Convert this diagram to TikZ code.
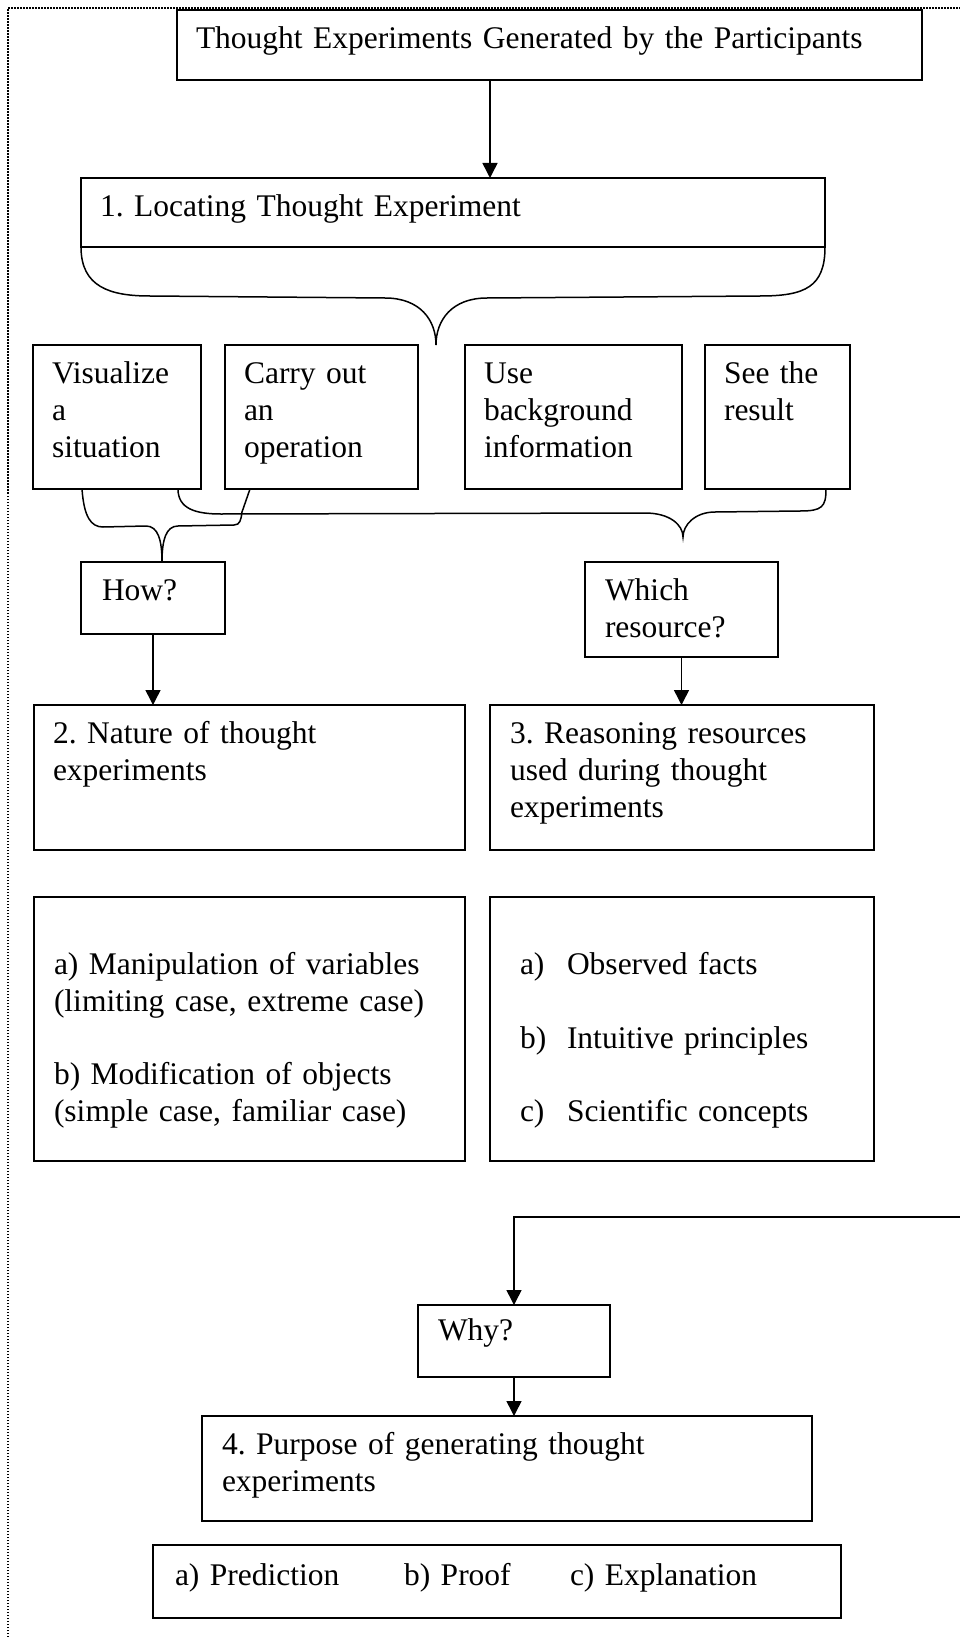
\documentclass[tikz,border=0pt]{standalone}
\usepackage{fontspec}
\setmainfont{Liberation Serif}
\usetikzlibrary{arrows.meta}
\newcommand{\tefont}{\fontsize{31.5}{36.8}\selectfont}
\frenchspacing

\begin{document}
\begin{tikzpicture}[x=1pt,y=-1pt,
  frame/.style={draw, line width=1.8pt, inner sep=0pt, outer sep=0pt, anchor=north west},
  txt/.style={anchor=north west, inner sep=0pt, outer sep=0pt, align=left, font=\tefont, text width=#1},
  txt/.default=400pt,
  link/.style={line width=1.5pt, -{Triangle[length=15pt,width=15pt]}},
  brace/.style={line width=1.5pt},
  border/.style={line width=1.5pt, dash pattern=on 1.5pt off 1.5pt}
]
\useasboundingbox (0,0) rectangle (960,1637);

% dotted page frame
\draw[border] (8,1640) -- (8,8) -- (965,8);

% boxes
\node[frame, minimum width=745pt, minimum height=70pt] (T) at (177,10) {};
\node[frame, minimum width=744pt, minimum height=69pt] (B1) at (81,178) {};
\node[frame, minimum width=168pt, minimum height=144pt] (V) at (33,345) {};
\node[frame, minimum width=193pt, minimum height=144pt] (C) at (225,345) {};
\node[frame, minimum width=217pt, minimum height=144pt] (U) at (465,345) {};
\node[frame, minimum width=145pt, minimum height=144pt] (S) at (705,345) {};
\node[frame, minimum width=144pt, minimum height=72pt] (How) at (81,562) {};
\node[frame, minimum width=193pt, minimum height=95pt] (Which) at (585,562) {};
\node[frame, minimum width=431pt, minimum height=145pt] (B2) at (34,705) {};
\node[frame, minimum width=384pt, minimum height=145pt] (B3) at (490,705) {};
\node[frame, minimum width=431pt, minimum height=264pt] (B2a) at (34,897) {};
\node[frame, minimum width=384pt, minimum height=264pt] (B3a) at (490,897) {};
\node[frame, minimum width=192pt, minimum height=72pt] (Why) at (418,1305) {};
\node[frame, minimum width=610pt, minimum height=105pt] (B4) at (202,1416) {};
\node[frame, minimum width=688pt, minimum height=73pt] (B4a) at (153,1545) {};

% texts
\node[txt=720pt] (Tt) at ([xshift=19pt,yshift=-13pt]T.north west) {\strut Thought Experiments Generated by the Participants};
\node[txt=700pt] (B1t) at ([xshift=19pt,yshift=-13pt]B1.north west) {\strut 1. Locating Thought Experiment};
\node[txt=150pt] (Vt) at ([xshift=19pt,yshift=-13pt]V.north west) {\strut Visualize\\ a\\ situation};
\node[txt=170pt] (Ct) at ([xshift=19pt,yshift=-13pt]C.north west) {\strut Carry out\\ an\\ operation};
\node[txt=190pt] (Ut) at ([xshift=19pt,yshift=-13pt]U.north west) {\strut Use\\ background\\ information};
\node[txt=120pt] (St) at ([xshift=19pt,yshift=-13pt]S.north west) {\strut See the\\ result};
\node[txt=120pt] (Howt) at ([xshift=21pt,yshift=-13pt]How.north west) {\strut How?};
\node[txt=170pt] (Whicht) at ([xshift=20pt,yshift=-13pt]Which.north west) {\strut Which\\ resource?};
\node[txt=410pt] (B2t) at ([xshift=19pt,yshift=-13pt]B2.north west) {\strut 2. Nature of thought\\ experiments};
\node[txt=360pt] (B3t) at ([xshift=20pt,yshift=-13pt]B3.north west) {\strut 3. Reasoning resources\\ used during thought\\ experiments};
\node[txt=410pt] (B2at) at ([xshift=20pt,yshift=-15pt]B2a.north west) {\strut\\ a) Manipulation of variables\\ (limiting case, extreme case)\\ \mbox{}\\ b) Modification of objects\\ (simple case, familiar case)};
\node[txt=350pt] (B3at) at ([xshift=30pt,yshift=-15pt]B3a.north west) {\strut\\ \makebox[47pt][l]{a)}Observed facts\\ \mbox{}\\ \makebox[47pt][l]{b)}Intuitive principles\\ \mbox{}\\ \makebox[47pt][l]{c)}Scientific concepts};
\node[txt=170pt] (Whyt) at ([xshift=20pt,yshift=-10pt]Why.north west) {\strut Why?};
\node[txt=590pt] (B4t) at ([xshift=20pt,yshift=-13pt]B4.north west) {\strut 4. Purpose of generating thought\\ experiments};
\node[txt=670pt] (B4at) at ([xshift=22pt,yshift=-15pt]B4a.north west) {\strut\makebox[229pt][l]{a) Prediction}\makebox[166pt][l]{b) Proof}c) Explanation};

% connectors
\coordinate (a1) at (490,0);
\draw[link] (T.south -| a1) -- (B1.north -| a1);
\draw[link] (How.south) -- (How.south |- B2.north);
\draw[link] (Which.south) -- (Which.south |- B3.north);
\coordinate (edge) at (962,1217);
\draw[link] (edge) -| (Why.north);
\draw[link] (Why.south) -- (Why.south |- B4.north);

% brace below box 1
\coordinate (t1) at (436,345);
\draw[brace] (B1.south west) .. controls +(0,40) and +(-40,0) .. (150,296)
  -- (385,298) .. controls +(35,0) and +(0,-25) .. (t1)
  .. controls +(0,-25) and +(-35,0) .. (487,298)
  -- (760,296) .. controls +(45,0) and +(0,40) .. (B1.south east);

% brace joining the first two boxes into How?
\draw[brace] ([xshift=49pt]V.south west) .. controls +(2,28) and +(-12,0) .. (103,527)
  -- (146,526) .. controls +(12,0) and +(0,-22) .. (How.north -| 162,0)
  .. controls +(0,-22) and +(-12,0) .. (178,526)
  -- (234,525) .. controls +(6,0) and +(-1,8) .. (242,512)
  -- ([xshift=25pt]C.south west);

% brace joining the four boxes toward Which resource?
\coordinate (t2) at (683,537);
\draw[brace] ([xshift=145pt]V.south west) .. controls +(0,20) and +(-25,0) .. (221,514)
  -- (645,513) .. controls +(25,0) and +(0,-12) .. (t2)
  .. controls +(0,-12) and +(-20,0) .. (715,512)
  -- (800,511) .. controls +(22,0) and +(0,18) .. ([xshift=121pt]S.south west);
\end{tikzpicture}
\end{document}
